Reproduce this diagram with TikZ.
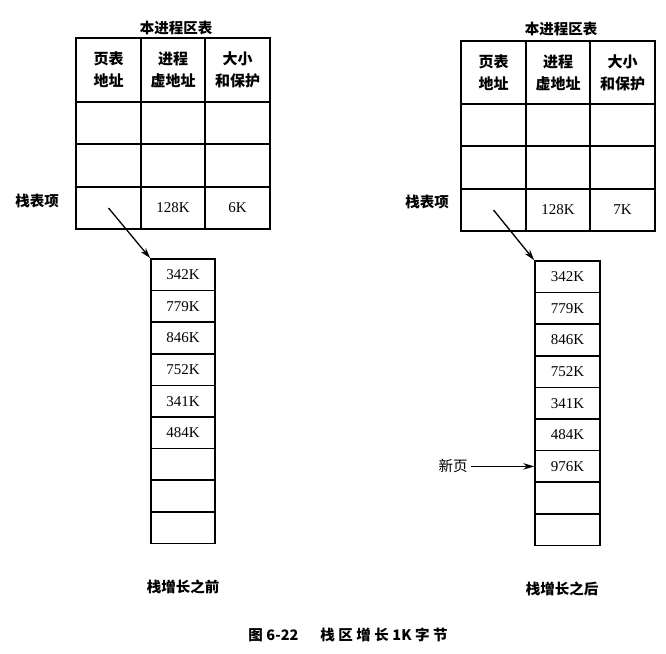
\documentclass[tikz,border=0pt]{standalone}
\usepackage{fontspec}
\setmainfont{Liberation Serif}
\newfontfamily\cjk{Noto Sans CJK SC}
\usetikzlibrary{arrows.meta}
\newcommand\gp{\hspace{3.5pt}}
\begin{document}
\begin{tikzpicture}[x=1pt,y=-1pt,
  cell/.style={draw,line width=1.6pt,inner sep=0pt,minimum width=#1,align=center,font=\fontsize{15}{22}\selectfont},
  lbl/.style={inner sep=0pt,font=\fontsize{14.5}{17}\selectfont\cjk\bfseries},
  arr/.style={line width=1.3pt,-{Stealth[length=11pt,width=6.5pt]}}]
\useasboundingbox (0,0) rectangle (666,653);
% ---------- left table ----------
\node[lbl] (LT) at (176,28) {本进程区表};
\node[cell=65pt,minimum height=64pt] (L11) at (108.5,70) {\cjk\bfseries 页表\\\cjk\bfseries 地址};
\node[cell=64pt,minimum height=64pt] (L12) at (173,70) {\cjk\bfseries 进程\\\cjk\bfseries 虚地址};
\node[cell=65pt,minimum height=64pt] (L13) at (237.5,70) {\cjk\bfseries 大小\\\cjk\bfseries 和保护};
\node[cell=65pt,minimum height=42pt] (L21) at (108.5,123) {};
\node[cell=64pt,minimum height=42pt] (L22) at (173,123) {};
\node[cell=65pt,minimum height=42pt] (L23) at (237.5,123) {};
\node[cell=65pt,minimum height=43pt] (L31) at (108.5,165.5) {};
\node[cell=64pt,minimum height=43pt] (L32) at (173,165.5) {};
\node[cell=65pt,minimum height=43pt] (L33) at (237.5,165.5) {};
\node[cell=65pt,minimum height=42pt] (L41) at (108.5,208) {};
\node[cell=64pt,minimum height=42pt] (L42) at (173,208) {128K};
\node[cell=65pt,minimum height=42pt] (L43) at (237.5,208) {6K};
\node[lbl] (LS) at (37,201) {栈表项};
% left stack
\foreach \i/\t in {1/342K,2/779K,3/846K,4/752K,5/341K,6/484K,7/,8/,9/}{
  \node[cell=64pt,minimum height=31.6pt] (LP\i) at (183,{259+31.6*(\i-0.5)}) {\t};
}
\draw[arr] (L41.center) -- (LP1.north west);
\node[lbl] (LC) at (183,587) {栈增长之前};
% ---------- right table ----------
\node[lbl] (RT) at (561,29) {本进程区表};
\node[cell=65pt,minimum height=63pt] (R11) at (493.5,72.5) {\cjk\bfseries 页表\\\cjk\bfseries 地址};
\node[cell=64pt,minimum height=63pt] (R12) at (558,72.5) {\cjk\bfseries 进程\\\cjk\bfseries 虚地址};
\node[cell=65pt,minimum height=63pt] (R13) at (622.5,72.5) {\cjk\bfseries 大小\\\cjk\bfseries 和保护};
\node[cell=65pt,minimum height=42pt] (R21) at (493.5,125) {};
\node[cell=64pt,minimum height=42pt] (R22) at (558,125) {};
\node[cell=65pt,minimum height=42pt] (R23) at (622.5,125) {};
\node[cell=65pt,minimum height=43pt] (R31) at (493.5,167.5) {};
\node[cell=64pt,minimum height=43pt] (R32) at (558,167.5) {};
\node[cell=65pt,minimum height=43pt] (R33) at (622.5,167.5) {};
\node[cell=65pt,minimum height=42pt] (R41) at (493.5,210) {};
\node[cell=64pt,minimum height=42pt] (R42) at (558,210) {128K};
\node[cell=65pt,minimum height=42pt] (R43) at (622.5,210) {7K};
\node[lbl] (RS) at (427,202) {栈表项};
% right stack
\foreach \i/\t in {1/342K,2/779K,3/846K,4/752K,5/341K,6/484K,7/976K,8/,9/}{
  \node[cell=65pt,minimum height=31.6pt] (RP\i) at (567.5,{261+31.6*(\i-0.5)}) {\t};
}
\draw[arr] (R41.center) -- (RP1.north west);
\node[lbl,font=\fontsize{14.5}{17}\selectfont\cjk] (NP) at (453,{261+31.6*6.5}) {新页};
\draw[arr] ([xshift=3pt]NP.east) -- (RP7.west);
\node[lbl] (RC) at (562,589) {栈增长之后};
% ---------- caption ----------
\node[lbl] (CAP) at (348,635) {图\gp 6-22\hspace{22pt}栈\gp 区\gp 增\gp 长\gp 1K\gp 字\gp 节};
\end{tikzpicture}
\end{document}
